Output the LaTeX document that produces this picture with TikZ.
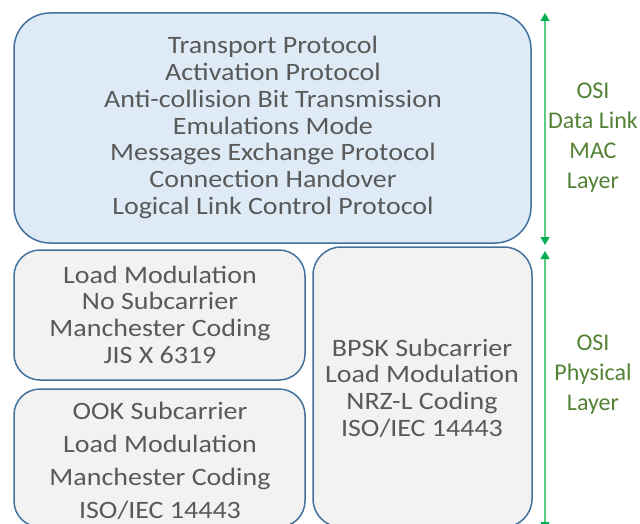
\documentclass[tikz,border=0pt]{standalone}
\usepackage{fontspec}
\setmainfont[FakeStretch=1.12]{Carlito}
\newfontfamily\labelfont{Carlito}
\usetikzlibrary{arrows.meta}
\definecolor{boxline}{RGB}{65,113,156}
\definecolor{macfill}{RGB}{222,235,247}
\definecolor{phyfill}{RGB}{242,242,242}
\definecolor{bodytext}{RGB}{89,89,89}
\definecolor{layertext}{RGB}{84,130,53}
\definecolor{spanline}{RGB}{90,205,130}
\definecolor{spantip}{RGB}{0,176,80}
\tikzset{
  layerbox/.style={draw=boxline, line width=1.5pt},
  boxtext/.style={text=bodytext, align=center, inner sep=0pt,
    font=\fontsize{25}{26.7}\selectfont},
  looser/.style={font=\fontsize{25}{33}\selectfont},
  layerlabel/.style={text=layertext, align=center, inner sep=0pt,
    font=\labelfont\fontsize{24}{30}\selectfont},
  span/.style={draw=spanline, line width=1.3pt,
    {Triangle[width=9pt,length=8pt,color=spantip]}-{Triangle[width=9pt,length=8pt,color=spantip]}},
}
\begin{document}
\begin{tikzpicture}[x=1pt,y=-1pt]
\useasboundingbox (0,0) rectangle (640,524);
\clip (0,0) rectangle (640,524);

% MAC layer block
\path[layerbox, fill=macfill, rounded corners=36pt] (14,13) rectangle (531,243);
\node[boxtext] (mac) at (273,127.5) {Transport Protocol\\Activation Protocol\\Anti-collision Bit Transmission\\Emulations Mode\\Messages Exchange Protocol\\Connection Handover\\Logical Link Control Protocol};

% Physical layer blocks
\path[layerbox, fill=phyfill, rounded corners=26pt] (14,250) rectangle (305,380);
\node[boxtext] (jis) at (160,314.5) {Load Modulation\\No Subcarrier\\Manchester Coding\\JIS X 6319};

\path[layerbox, fill=phyfill, rounded corners=26pt] (14,389) rectangle (305,527);
\node[boxtext, looser] (ook) at (160,460.5) {OOK Subcarrier\\Load Modulation\\Manchester Coding\\ISO/IEC 14443};

\path[layerbox, fill=phyfill, rounded corners=28pt] (313,247) rectangle (532,527);
\node[boxtext] (bpsk) at (422,388) {BPSK Subcarrier\\Load Modulation\\NRZ-L Coding\\ISO/IEC 14443};

% Layer spans
\coordinate (maca) at (545,13);
\coordinate (macb) at (545,245);
\coordinate (phya) at (545,251);
\coordinate (phyb) at (545,530);
\draw[span] (maca) -- (macb);
\draw[span] (phya) -- (phyb);

\node[layerlabel] (maclbl) at (593,138) {OSI\\Data Link\\MAC\\Layer};
\node[layerlabel] (phylbl) at (593,375) {OSI\\Physical\\Layer};
\end{tikzpicture}
\end{document}
